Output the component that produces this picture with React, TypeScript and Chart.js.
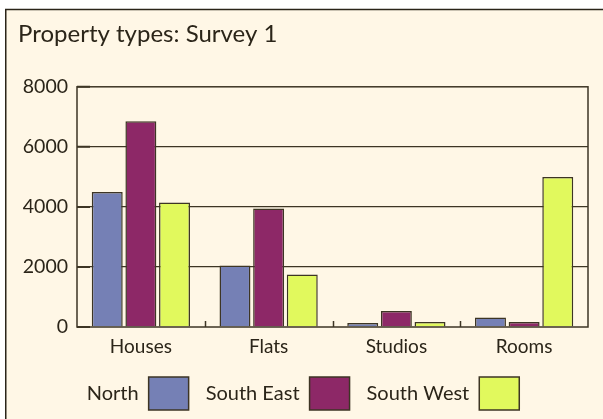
import React, { useEffect, useRef } from "react";
import { Chart, registerables } from "chart.js";

Chart.register(...registerables);

const titleText = "Property types: Survey 1";
const categories = ["Houses", "Flats", "Studios", "Rooms"];
const seriesNames = ["North", "South East", "South West"];
const northValues = [4500, 2050, 130, 320];
const southEastValues = [6850, 3950, 535, 165];
const southWestValues = [4150, 1750, 170, 5000];
const seriesColors = ["#7580B5", "#8D2867", "#E1F95D"];
const yTicks = [0, 2000, 4000, 6000, 8000];

const INK = "#2b2519";
const LINE = "#3d3524";
const BG = "#FFF7E6";
const FONT = "Lato";

const framePlugin = {
  id: "frame",
  beforeDraw(chart: any) {
    const { ctx, width, height } = chart;
    ctx.save();
    ctx.fillStyle = "#ffffff";
    ctx.fillRect(0, 0, width, height);
    ctx.fillStyle = BG;
    ctx.fillRect(6, 9, width, height);
    ctx.strokeStyle = "#2a2418";
    ctx.lineWidth = 1.5;
    ctx.beginPath();
    ctx.moveTo(width + 5, 9.5);
    ctx.lineTo(5.75, 9.5);
    ctx.lineTo(5.75, height + 5);
    ctx.stroke();
    ctx.restore();
  },
  afterDatasetsDraw(chart: any) {
    const { ctx, chartArea } = chart;
    const x = chart.scales.x;
    const y = chart.scales.y;
    ctx.save();
    ctx.strokeStyle = LINE;
    ctx.lineWidth = 1.5;
    ctx.strokeRect(chartArea.left, chartArea.top, chartArea.right - chartArea.left, chartArea.bottom - chartArea.top);
    ctx.beginPath();
    for (let i = 1; i < categories.length; i++) {
      const px = Math.round((x.getPixelForValue(i - 1) + x.getPixelForValue(i)) / 2) + 0.5;
      ctx.moveTo(px, chartArea.bottom);
      ctx.lineTo(px, chartArea.bottom - 6);
    }
    ctx.stroke();
    ctx.lineWidth = 2;
    ctx.beginPath();
    for (const v of yTicks) {
      const py = y.getPixelForValue(v);
      ctx.moveTo(chartArea.left, py);
      ctx.lineTo(chartArea.left + 13, py);
    }
    ctx.stroke();
    ctx.restore();
  },
};

export default function App() {
  const ref = useRef<HTMLCanvasElement>(null);
  useEffect(() => {
    if (!ref.current) return;
    const chart = new Chart(ref.current, {
      type: "bar",
      data: {
        labels: categories,
        datasets: [northValues, southEastValues, southWestValues].map((d, i) => ({
          label: seriesNames[i],
          data: d,
          backgroundColor: seriesColors[i],
          borderColor: LINE,
          borderWidth: 1.5,
          categoryPercentage: 0.79,
          barPercentage: 0.92,
        })),
      },
      options: {
        responsive: false,
        animation: false,
        devicePixelRatio: 1,
        layout: { padding: { left: 18, right: 15, top: 0, bottom: -1 } },
        plugins: {
          tooltip: { enabled: false },
          title: {
            display: true,
            text: titleText,
            align: "start",
            color: INK,
            font: { family: FONT, size: 24, weight: "normal" },
            padding: { top: 20, bottom: 38 },
          },
          legend: {
            display: true,
            position: "bottom",
            rtl: true,
            reverse: true,
            labels: {
              boxWidth: 40,
              boxHeight: 33,
              padding: 17,
              color: INK,
              font: { family: FONT, size: 20 },
              generateLabels: (c: any) =>
                c.data.datasets.map((ds: any, i: number) => ({
                  text: ds.label,
                  fillStyle: seriesColors[i],
                  strokeStyle: LINE,
                  lineWidth: 1.5,
                  datasetIndex: i,
                  hidden: false,
                  fontColor: INK,
                })),
            },
          },
        },
        scales: {
          x: {
            grid: { display: false, drawTicks: false },
            border: { display: false },
            ticks: { color: INK, font: { family: FONT, size: 19 }, padding: 8 },
            afterFit: (s: any) => {
              s.height = 33;
            },
          },
          y: {
            min: 0,
            max: 8000,
            afterBuildTicks: (s: any) => {
              s.ticks = yTicks.map((v) => ({ value: v }));
            },
            grid: {
              color: (c: any) => (c.tick && (c.tick.value === 0 || c.tick.value === 8000) ? "rgba(0,0,0,0)" : LINE),
              lineWidth: 1.2,
              drawTicks: false,
            },
            border: { display: false },
            ticks: {
              color: INK,
              font: { family: FONT, size: 19.5 },
              padding: 9,
              callback: (v: any) => String(v),
            },
            afterFit: (s: any) => {
              s.width = 59;
            },
          },
        },
      },
      plugins: [framePlugin],
    });
    return () => chart.destroy();
  }, []);
  return (
    <div style={{ position: "fixed", left: 0, top: 0, width: 603, height: 419 }}>
      <canvas ref={ref} width={603} height={419} />
    </div>
  );
}
